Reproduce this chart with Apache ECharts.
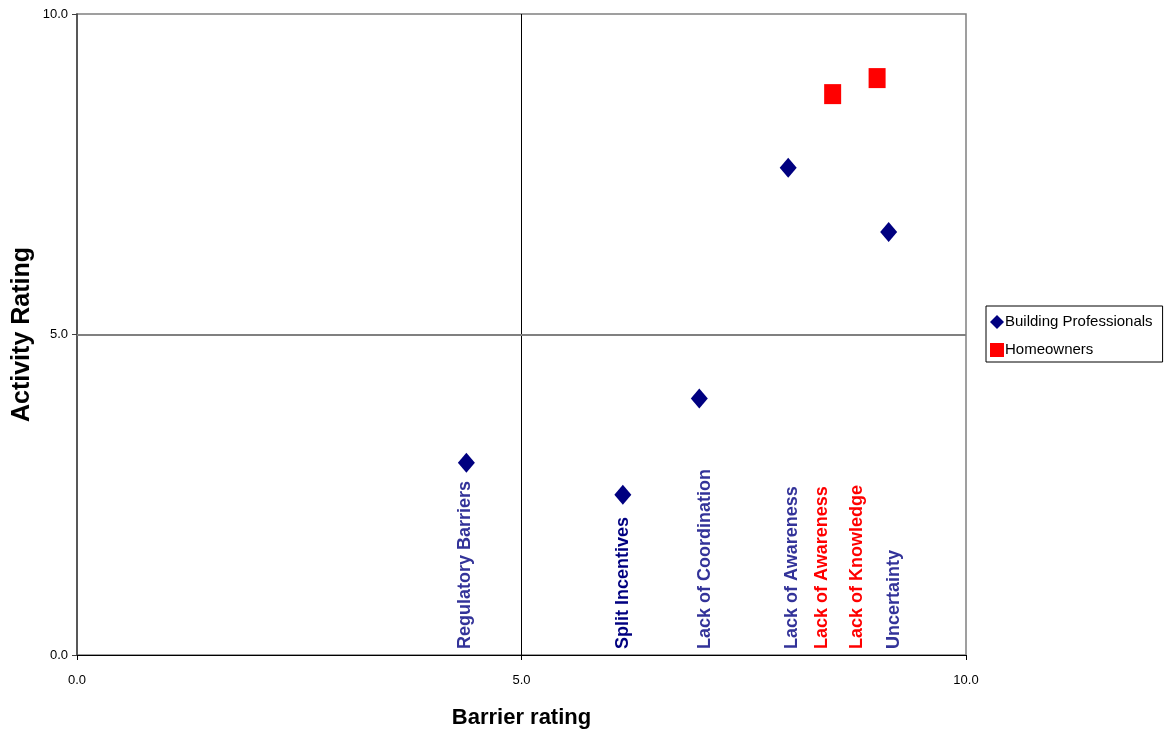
<!DOCTYPE html>
<html>
<head>
<meta charset="utf-8">
<script src="https://cdn.jsdelivr.net/npm/echarts@6/dist/echarts.min.js"></script>
<style>
  html, body { margin: 0; padding: 0; background: #ffffff; }
  #chart { width: 1166px; height: 730px; }
</style>
</head>
<body>
<div id="chart"></div>
<script>
// Barrier vs activity ratings
const bpNames = ['Regulatory Barriers', 'Split Incentives', 'Lack of Coordination', 'Lack of Awareness', 'Uncertainty'];
const bpBarrier = [4.38, 6.14, 7.0, 8.0, 9.13];
const bpActivity = [3.0, 2.5, 4.0, 7.6, 6.6];

const hoNames = ['Lack of Awareness', 'Lack of Knowledge'];
const hoBarrier = [8.5, 9.0];
const hoActivity = [8.75, 9.0];

const axisTicks = [0, 5, 10];

// Horizontal nudges (px) so the rotated names do not collide
const bpLabelShift = [-1, 0, 5.5, 4, 5];
const hoLabelShift = [-11, -20];
const bpLabelColors = ['#333399', '#000080', '#333399', '#333399', '#333399'];
const hoLabelColor = '#ff0000';

const FONT = '"Liberation Sans", Arial, sans-serif';

const labelRows = bpNames.map((n, i) => [bpBarrier[i], 0, n, bpLabelColors[i], bpLabelShift[i]])
  .concat(hoNames.map((n, i) => [hoBarrier[i], 0, n, hoLabelColor, hoLabelShift[i]]));

const chart = echarts.init(document.getElementById('chart'));
chart.setOption({
  animation: false,
  backgroundColor: '#ffffff',
  grid: {
    left: 77, right: 200, top: 14, bottom: 75,
    containLabel: false, outerBoundsMode: 'none',
    show: true, borderColor: '#808080', borderWidth: 1.5, backgroundColor: 'transparent'
  },
  legend: {
    orient: 'vertical',
    left: 986, top: 306,
    padding: [8, 10, 4, 4],
    itemGap: 12,
    itemWidth: 14, itemHeight: 14,
    borderColor: '#000000', borderWidth: 1,
    textStyle: { fontFamily: FONT, fontSize: 15, lineHeight: 16, color: '#000000', padding: [0, 0, 0, -4] },
    data: [
      { name: 'Building Professionals', icon: 'diamond' },
      { name: 'Homeowners', icon: 'rect' }
    ]
  },
  xAxis: {
    type: 'value', min: axisTicks[0], max: axisTicks[2], interval: 5,
    name: 'Barrier rating', nameLocation: 'middle', nameGap: 52,
    nameTextStyle: { fontFamily: FONT, fontSize: 22, fontWeight: 'bold', color: '#000000' },
    axisLine: { onZero: false, lineStyle: { color: '#000000', width: 1 } },
    axisTick: { show: true, length: 5, lineStyle: { color: '#000000' } },
    axisLabel: { fontFamily: FONT, fontSize: 13, color: '#000000', margin: 19,
      formatter: v => v.toFixed(1) },
    splitLine: { show: false }
  },
  yAxis: {
    type: 'value', min: axisTicks[0], max: axisTicks[2], interval: 5,
    name: 'Activity Rating', nameLocation: 'middle', nameGap: 42, nameRotate: 90,
    nameMoveOverlap: false,
    nameTextStyle: { fontFamily: FONT, fontSize: 25, fontWeight: 'bold', color: '#000000' },
    axisLine: { onZero: false, lineStyle: { color: '#404040', width: 1.5 } },
    axisTick: { show: true, length: 5, lineStyle: { color: '#404040' } },
    axisLabel: { fontFamily: FONT, fontSize: 13, color: '#000000', margin: 9,
      formatter: v => v.toFixed(1) },
    splitLine: { show: false }
  },
  series: [
    {
      name: 'Building Professionals',
      type: 'scatter',
      symbol: 'diamond',
      symbolSize: [17, 20],
      itemStyle: { color: '#000080', opacity: 1 },
      data: bpBarrier.map((x, i) => [x, bpActivity[i]]),
      z: 5,
      markLine: {
        silent: true, symbol: 'none', label: { show: false },
        data: [
          { xAxis: 5, lineStyle: { color: '#000000', width: 1, type: 'solid' } },
          { yAxis: 5, lineStyle: { color: '#808080', width: 2, type: 'solid' } }
        ]
      }
    },
    {
      name: 'Homeowners',
      type: 'scatter',
      symbol: 'rect',
      symbolSize: [17, 20],
      itemStyle: { color: '#ff0000', opacity: 1 },
      data: hoBarrier.map((x, i) => [x, hoActivity[i]]),
      z: 5
    },
    {
      name: 'names',
      type: 'custom',
      silent: true,
      z: 4,
      data: labelRows,
      renderItem: function (params, api) {
        const pt = api.coord([api.value(0), api.value(1)]);
        const row = labelRows[params.dataIndex];
        return {
          type: 'text',
          x: pt[0] + row[4],
          y: pt[1] - 6,
          rotation: Math.PI / 2,
          style: {
            text: row[2],
            fill: row[3],
            font: 'bold 18px ' + FONT,
            align: 'left',
            verticalAlign: 'middle'
          }
        };
      }
    }
  ]
});
</script>
</body>
</html>
